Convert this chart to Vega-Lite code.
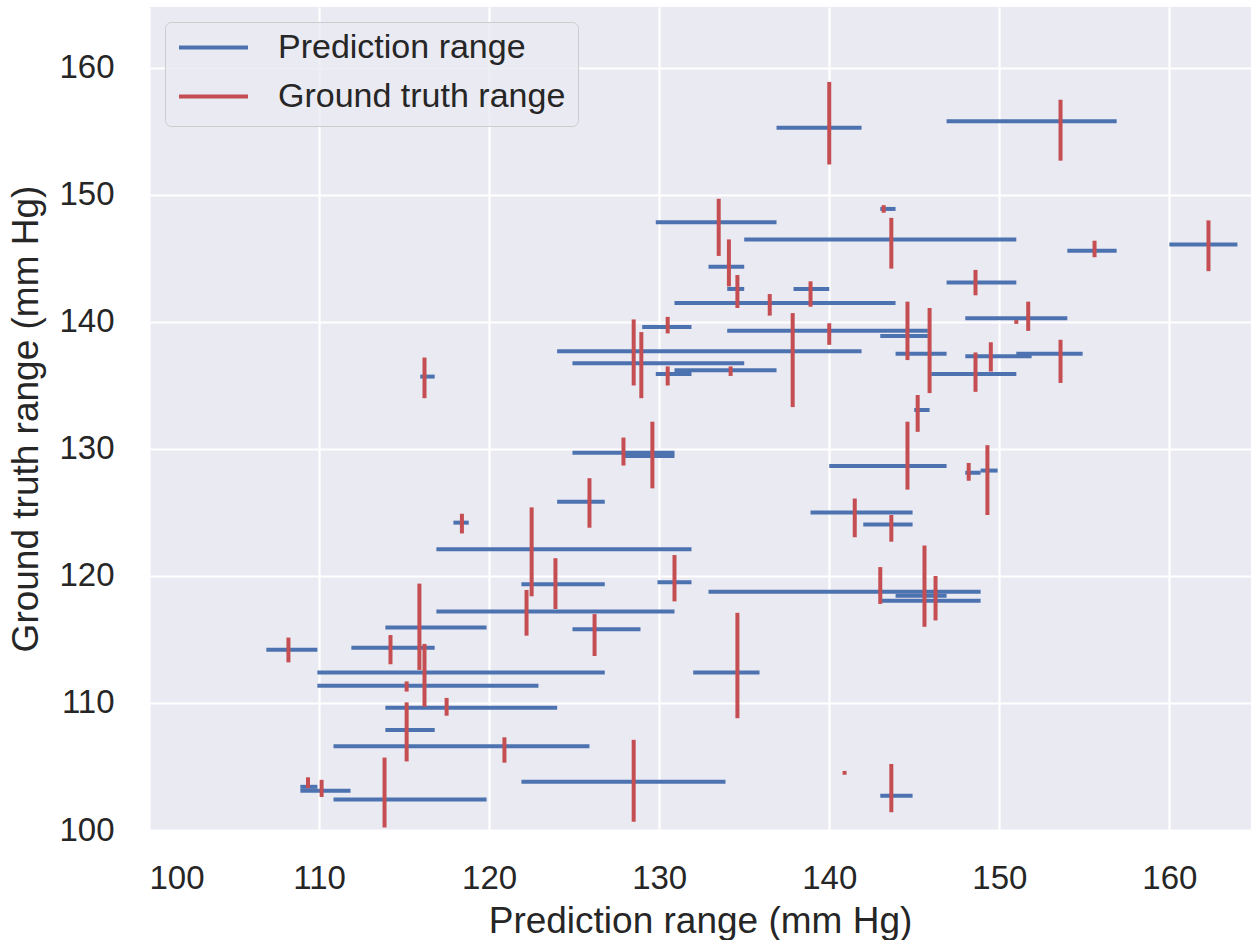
{
  "$schema": "https://vega.github.io/schema/vega-lite/v6.json",
  "autosize": "none",
  "width": 1102,
  "height": 823,
  "padding": {"left": 149, "top": 7, "right": 0, "bottom": 110},
  "background": "white",
  "config": {
    "view": {"fill": "#EAEAF2", "stroke": null},
    "font": "Liberation Sans",
    "axis": {
      "domain": false,
      "ticks": false,
      "grid": true,
      "gridColor": "white",
      "gridWidth": 2.2,
      "labelFont": "Liberation Sans",
      "labelFontSize": 33,
      "labelColor": "#262626",
      "titleFont": "Liberation Sans",
      "titleFontSize": 37,
      "titleFontWeight": "normal",
      "titleColor": "#262626"
    }
  },
  "datasets": {
    "pred": [
      {"lo": 136.9, "hi": 141.9, "gt": 155.3},
      {"lo": 129.8, "hi": 136.9, "gt": 147.85},
      {"lo": 135.0, "hi": 151.0, "gt": 146.5},
      {"lo": 132.9, "hi": 135.0, "gt": 144.35},
      {"lo": 134.0, "hi": 135.0, "gt": 142.6},
      {"lo": 143.0, "hi": 143.9, "gt": 148.9},
      {"lo": 146.9, "hi": 156.9, "gt": 155.8},
      {"lo": 154.0, "hi": 156.9, "gt": 145.6},
      {"lo": 160.0, "hi": 164.0, "gt": 146.1},
      {"lo": 146.9, "hi": 151.0, "gt": 143.1},
      {"lo": 115.95, "hi": 116.8, "gt": 135.7},
      {"lo": 117.9, "hi": 118.8, "gt": 124.2},
      {"lo": 116.9, "hi": 131.9, "gt": 122.1},
      {"lo": 137.9, "hi": 140.0, "gt": 142.6},
      {"lo": 130.9, "hi": 143.9, "gt": 141.5},
      {"lo": 129.0, "hi": 131.9, "gt": 139.6},
      {"lo": 134.0, "hi": 145.8, "gt": 139.3},
      {"lo": 143.0, "hi": 145.8, "gt": 138.9},
      {"lo": 124.0, "hi": 141.9, "gt": 137.7},
      {"lo": 124.9, "hi": 135.0, "gt": 136.75},
      {"lo": 130.9, "hi": 136.9, "gt": 136.2},
      {"lo": 129.8, "hi": 131.9, "gt": 135.9},
      {"lo": 124.9, "hi": 130.9, "gt": 129.7},
      {"lo": 127.9, "hi": 130.9, "gt": 129.45},
      {"lo": 124.0, "hi": 126.8, "gt": 125.85},
      {"lo": 140.0, "hi": 146.9, "gt": 128.66},
      {"lo": 138.9, "hi": 144.9, "gt": 125.0},
      {"lo": 142.0, "hi": 144.9, "gt": 124.06},
      {"lo": 148.0, "hi": 154.0, "gt": 140.3},
      {"lo": 143.9, "hi": 146.9, "gt": 137.5},
      {"lo": 148.0, "hi": 151.9, "gt": 137.3},
      {"lo": 151.0, "hi": 154.9, "gt": 137.5},
      {"lo": 146.0, "hi": 151.0, "gt": 135.9},
      {"lo": 145.0, "hi": 145.9, "gt": 133.07},
      {"lo": 148.0, "hi": 148.9, "gt": 128.13},
      {"lo": 148.9, "hi": 149.9, "gt": 128.3},
      {"lo": 132.9, "hi": 148.9, "gt": 118.76},
      {"lo": 143.1, "hi": 148.9, "gt": 118.06},
      {"lo": 143.9, "hi": 146.9, "gt": 118.45},
      {"lo": 143.0, "hi": 144.9, "gt": 102.7},
      {"lo": 121.9, "hi": 126.8, "gt": 119.35},
      {"lo": 129.9, "hi": 131.9, "gt": 119.5},
      {"lo": 124.9, "hi": 128.9, "gt": 115.8},
      {"lo": 121.9, "hi": 133.9, "gt": 103.8},
      {"lo": 132.0, "hi": 135.9, "gt": 112.4},
      {"lo": 116.9, "hi": 130.9, "gt": 117.2},
      {"lo": 113.9, "hi": 119.85, "gt": 115.95},
      {"lo": 106.9, "hi": 109.9, "gt": 114.2},
      {"lo": 111.9, "hi": 116.8, "gt": 114.35},
      {"lo": 109.9, "hi": 126.8, "gt": 112.4},
      {"lo": 109.9, "hi": 122.9, "gt": 111.36},
      {"lo": 113.9, "hi": 124.0, "gt": 109.63},
      {"lo": 113.9, "hi": 116.8, "gt": 107.87},
      {"lo": 110.85, "hi": 125.9, "gt": 106.6},
      {"lo": 108.9, "hi": 109.9, "gt": 103.4},
      {"lo": 108.9, "hi": 111.85, "gt": 103.1},
      {"lo": 110.85, "hi": 119.85, "gt": 102.4}
    ],
    "truth": [
      {"p": 140.0, "lo": 152.4, "hi": 158.9},
      {"p": 133.5, "lo": 145.2, "hi": 149.7},
      {"p": 134.1, "lo": 142.8, "hi": 146.5},
      {"p": 134.6, "lo": 141.1, "hi": 143.7},
      {"p": 143.2, "lo": 148.6, "hi": 149.2},
      {"p": 153.6, "lo": 152.7, "hi": 157.5},
      {"p": 143.65, "lo": 144.2, "hi": 148.2},
      {"p": 155.6, "lo": 145.1, "hi": 146.4},
      {"p": 162.3, "lo": 144.0, "hi": 148.0},
      {"p": 148.6, "lo": 142.1, "hi": 144.1},
      {"p": 116.2, "lo": 134.0, "hi": 137.2},
      {"p": 118.4, "lo": 123.35, "hi": 124.9},
      {"p": 138.9, "lo": 141.2, "hi": 143.2},
      {"p": 136.5, "lo": 140.5, "hi": 142.2},
      {"p": 130.5, "lo": 139.1, "hi": 140.4},
      {"p": 128.5, "lo": 135.0, "hi": 140.2},
      {"p": 128.95, "lo": 134.0, "hi": 139.2},
      {"p": 137.85, "lo": 133.3, "hi": 140.7},
      {"p": 140.0, "lo": 138.2, "hi": 139.9},
      {"p": 130.5, "lo": 135.0, "hi": 136.5},
      {"p": 134.2, "lo": 135.75, "hi": 136.5},
      {"p": 127.9, "lo": 128.7, "hi": 130.9},
      {"p": 129.6, "lo": 126.9, "hi": 132.15},
      {"p": 125.9, "lo": 123.8, "hi": 127.7},
      {"p": 122.5, "lo": 118.4, "hi": 125.4},
      {"p": 122.2, "lo": 115.3, "hi": 118.9},
      {"p": 123.9, "lo": 117.4, "hi": 121.4},
      {"p": 130.9, "lo": 118.0, "hi": 121.65},
      {"p": 141.5, "lo": 123.05, "hi": 126.1},
      {"p": 143.65, "lo": 122.7, "hi": 124.8},
      {"p": 151.7, "lo": 139.3, "hi": 141.6},
      {"p": 151.0, "lo": 139.85, "hi": 140.15},
      {"p": 144.6, "lo": 137.0, "hi": 141.6},
      {"p": 145.9, "lo": 134.4, "hi": 141.1},
      {"p": 149.5, "lo": 136.1, "hi": 138.4},
      {"p": 148.6, "lo": 134.5, "hi": 137.6},
      {"p": 153.6, "lo": 135.2, "hi": 138.6},
      {"p": 145.2, "lo": 131.35, "hi": 134.25},
      {"p": 144.6, "lo": 126.8, "hi": 132.15},
      {"p": 148.2, "lo": 127.5, "hi": 128.9},
      {"p": 149.3, "lo": 124.8, "hi": 130.3},
      {"p": 145.6, "lo": 116.0, "hi": 122.4},
      {"p": 143.0, "lo": 117.8, "hi": 120.7},
      {"p": 146.25, "lo": 116.5, "hi": 120.0},
      {"p": 143.65, "lo": 101.4, "hi": 105.2},
      {"p": 126.2, "lo": 113.7, "hi": 117.0},
      {"p": 128.5, "lo": 100.65, "hi": 107.1},
      {"p": 134.6, "lo": 108.8, "hi": 117.1},
      {"p": 140.9, "lo": 104.35, "hi": 104.65},
      {"p": 115.9, "lo": 112.6, "hi": 119.4},
      {"p": 116.2, "lo": 109.7, "hi": 114.65},
      {"p": 108.2, "lo": 113.2, "hi": 115.15},
      {"p": 114.2, "lo": 113.05, "hi": 115.35},
      {"p": 115.15, "lo": 110.9, "hi": 111.7},
      {"p": 117.5, "lo": 109.0, "hi": 110.4},
      {"p": 115.15, "lo": 105.4, "hi": 110.05},
      {"p": 120.9, "lo": 105.3, "hi": 107.3},
      {"p": 109.35, "lo": 103.3, "hi": 104.15},
      {"p": 110.15, "lo": 102.6, "hi": 103.95},
      {"p": 113.85, "lo": 100.2, "hi": 105.7}
    ]
  },
  "layer": [
    {
      "data": {"name": "pred"},
      "mark": {"type": "rule", "strokeWidth": 4, "strokeCap": "butt"},
      "encoding": {
        "x": {
          "field": "lo", "type": "quantitative",
          "scale": {"domain": [100, 164.8], "nice": false, "zero": false},
          "axis": {
            "title": "Prediction range (mm Hg)",
            "values": [100, 110, 120, 130, 140, 150, 160],
            "labelPadding": 32,
            "titleBaseline": "alphabetic",
            "titleX": 551,
            "titleY": 102,
            "titleAlign": "center"
          }
        },
        "x2": {"field": "hi"},
        "y": {
          "field": "gt", "type": "quantitative",
          "scale": {"domain": [100, 164.8], "nice": false, "zero": false},
          "axis": {
            "title": "Ground truth range (mm Hg)",
            "values": [100, 110, 120, 130, 140, 150, 160],
            "labelPadding": 35,
            "titleBaseline": "alphabetic",
            "titleAngle": -90,
            "titleX": -112,
            "titleY": 411.5,
            "titleAlign": "center"
          }
        },
        "color": {
          "datum": "Prediction range",
          "type": "nominal",
          "scale": {"domain": ["Prediction range", "Ground truth range"], "range": ["#4C72B0", "#C44E52"]},
          "legend": {
            "title": null,
            "orient": "none",
            "legendX": 16,
            "legendY": 15,
            "symbolType": "stroke",
            "symbolSize": 4761,
            "symbolStrokeWidth": 4,
            "labelFont": "Liberation Sans",
            "labelFontSize": 34,
            "labelColor": "#262626",
            "labelOffset": 28,
            "labelLimit": 500,
            "padding": 12,
            "clipHeight": 27,
            "rowPadding": 14,
            "strokeColor": "#cccccc",
            "fillColor": "rgba(234,234,242,0.8)",
            "cornerRadius": 6
          }
        }
      }
    },
    {
      "data": {"name": "truth"},
      "mark": {"type": "rule", "strokeWidth": 4, "strokeCap": "butt"},
      "encoding": {
        "x": {"field": "p", "type": "quantitative"},
        "y": {"field": "lo", "type": "quantitative"},
        "y2": {"field": "hi"},
        "color": {"datum": "Ground truth range", "type": "nominal"}
      }
    }
  ]
}
